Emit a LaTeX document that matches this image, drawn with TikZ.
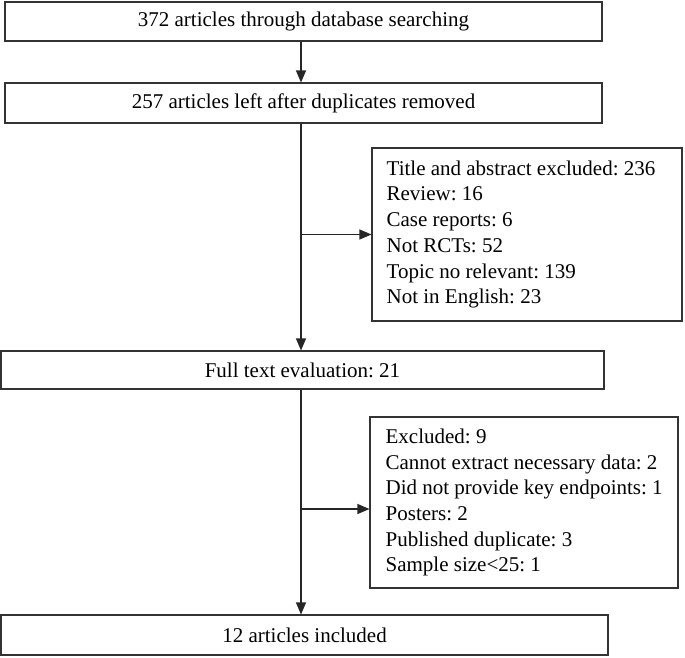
\documentclass[tikz,border=0pt]{standalone}
\usepackage{fontspec}
\setmainfont{Liberation Serif}
\usetikzlibrary{arrows.meta}
\begin{document}
\frenchspacing
\begin{tikzpicture}[x=1pt,y=-1pt,
  mainbox/.style={draw=black!80, line width=1.1pt, inner sep=0pt, align=center,
    font=\fontsize{21}{25.5}\selectfont},
  sidebox/.style={draw=black!80, line width=1.1pt, inner sep=0pt},
  sidetext/.style={inner sep=0pt, align=left, anchor=west,
    font=\fontsize{21}{25.7}\selectfont},
  arr/.style={line width=1.1pt, draw=black!85, -{Triangle[length=12pt,width=10pt]}}]
\useasboundingbox (0,0) rectangle (685,657);
\coordinate (tx) at (301,0);
\node[mainbox, minimum width=597pt, minimum height=39pt] (b1) at (303.5,21.5)
  {372 articles through database searching};
\node[mainbox, minimum width=597pt, minimum height=40pt] (b2) at (303.5,103)
  {257 articles left after duplicates removed};
\node[mainbox, minimum width=603pt, minimum height=38pt] (b3) at (302.5,370)
  {Full text evaluation: 21};
\node[mainbox, minimum width=607pt, minimum height=40pt] (b4) at (304.5,635)
  {12 articles included};
\node[sidebox, minimum width=310pt, minimum height=173pt] (s1) at (527,234.5) {};
\node[sidetext] (s1t) at ([xshift=15pt]s1.west)
  {Title and abstract excluded: 236\\Review: 16\\Case reports: 6\\Not RCTs: 52\\Topic no relevant: 139\\Not in English: 23};
\node[sidebox, minimum width=308pt, minimum height=171pt] (s2) at (524,502.5) {};
\node[sidetext] (s2t) at ([xshift=16pt]s2.west)
  {Excluded: 9\\Cannot extract necessary data: 2\\Did not provide key endpoints: 1\\Posters: 2\\Published duplicate: 3\\Sample size<25: 1};
\draw[arr] (b1.south -| tx) -- (b2.north -| tx);
\draw[arr] (b2.south -| tx) -- (b3.north -| tx);
\draw[arr] (b3.south -| tx) -- (b4.north -| tx);
\draw[arr] (s1.west -| tx) -- (s1.west);
\draw[arr] ([yshift=-6.5pt]s2.west -| tx) -- ([yshift=-6.5pt]s2.west);
\end{tikzpicture}
\end{document}
